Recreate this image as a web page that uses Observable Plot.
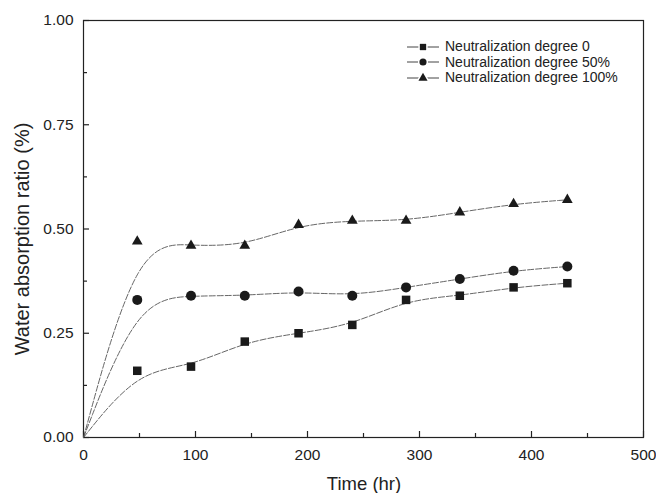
<!DOCTYPE html>
<html><head><meta charset="utf-8">
<script src="https://cdn.jsdelivr.net/npm/d3@7"></script>
<script src="https://cdn.jsdelivr.net/npm/@observablehq/plot@0.6"></script>
<style>
body{margin:0;background:#fff;font-family:"Liberation Sans",Arial,sans-serif;}
#wrap{position:relative;width:656px;height:493px;}
#legend{position:absolute;left:404px;top:39px;font-size:14px;color:#222;line-height:15.5px;}
#legend div{display:flex;align-items:center;white-space:nowrap;}
#legend svg{margin-right:3px;}
.lab{position:absolute;color:#222;white-space:nowrap;}
#xlab{left:364px;top:484px;font-size:18.5px;transform:translate(-50%,-50%);}
#ylab{left:22px;top:239px;font-size:20px;transform:translate(-50%,-50%) rotate(-90deg);}
</style></head><body>
<div id="wrap"><div id="legend"></div><div class="lab" id="xlab"></div><div class="lab" id="ylab"></div></div>
<script>
const times = [0, 48, 96, 144, 192, 240, 288, 336, 384, 432];
const deg0   = [0, 0.16, 0.17, 0.23, 0.25, 0.27, 0.33, 0.34, 0.36, 0.37];
const deg50  = [0, 0.33, 0.34, 0.34, 0.35, 0.34, 0.36, 0.38, 0.40, 0.41];
const deg100 = [0, 0.47, 0.46, 0.46, 0.51, 0.52, 0.52, 0.54, 0.56, 0.57];
const seriesNames = ["Neutralization degree 0", "Neutralization degree 50%", "Neutralization degree 100%"];
const seriesValues = [deg0, deg50, deg100];
const symbols = ["square", "circle", "triangle"];
const symbolR = [4.8, 5, 4];
const xMajor = [0, 100, 200, 300, 400, 500];
const xMinor = [50, 150, 250, 350, 450];
const yMajor = [0, 0.25, 0.5, 0.75, 1.0];
const yMinor = [0.125, 0.375, 0.625, 0.875];
const xTitle = "Time (hr)";
const yTitle = "Water absorption ratio (%)";

const rows = [];
seriesNames.forEach((s, i) => times.forEach((t, j) => rows.push({series: s, i, t, v: seriesValues[i][j]})));
const pts = rows.filter(d => d.t > 0);

const font = '"Liberation Sans",Arial,sans-serif';
const marks = [
  Plot.frame({stroke: "#222", strokeWidth: 1.2}),
  Plot.axisX(xMajor, {tickSize: 0, tickPadding: 11, fontSize: 15.5, fill: "#222", label: null}),
  Plot.axisX(xMajor, {tickSize: -6, tickFormat: () => "", label: null, stroke: "#222", strokeWidth: 1.2}),
  Plot.axisX(xMinor, {tickSize: -4, tickFormat: () => "", label: null, stroke: "#222", strokeWidth: 1.2}),
  Plot.axisY(yMajor, {tickSize: 0, tickPadding: 10, fontSize: 15.5, fill: "#222", tickFormat: d3.format(".2f"), label: null}),
  Plot.axisY(yMajor, {tickSize: -6, tickFormat: () => "", label: null, stroke: "#222", strokeWidth: 1.2}),
  Plot.axisY(yMinor, {tickSize: -4, tickFormat: () => "", label: null, stroke: "#222", strokeWidth: 1.2}),
];
seriesNames.forEach((s, i) => {
  marks.push(Plot.line(rows.filter(d => d.i === i), {x: "t", y: "v", curve: "basis", stroke: "#555", strokeWidth: 0.9, strokeDasharray: "6,2"}));
  marks.push(Plot.dot(pts.filter(d => d.i === i), {x: "t", y: "v", symbol: () => symbols[i], r: symbolR[i], fill: "#1a1a1a", stroke: "none"}));
});

const chart = Plot.plot({
  width: 656, height: 493,
  marginLeft: 83, marginRight: 13, marginTop: 20, marginBottom: 56,
  style: {fontFamily: font, fontSize: "15.5px", color: "#222", background: "#fff"},
  x: {domain: [0, 500]},
  y: {domain: [0, 1]},
  marks
});
document.getElementById("wrap").prepend(chart);
document.getElementById("xlab").textContent = xTitle;
document.getElementById("ylab").textContent = yTitle;

const legend = document.getElementById("legend");
const symPaths = {square: d3.symbol(d3.symbolSquare, 40)(), circle: d3.symbol(d3.symbolCircle, 40)(), triangle: d3.symbol(d3.symbolTriangle, 36)()};
seriesNames.forEach((s, i) => {
  const row = document.createElement("div");
  row.innerHTML = `<svg width="38" height="12"><line x1="3" x2="35" y1="6" y2="6" stroke="#444" stroke-width="1"/><path transform="translate(19,6)" d="${symPaths[symbols[i]]}" fill="#1a1a1a" stroke="#fff" stroke-width="3" paint-order="stroke"/></svg><span>${s}</span>`;
  legend.appendChild(row);
});
</script>
</body></html>
